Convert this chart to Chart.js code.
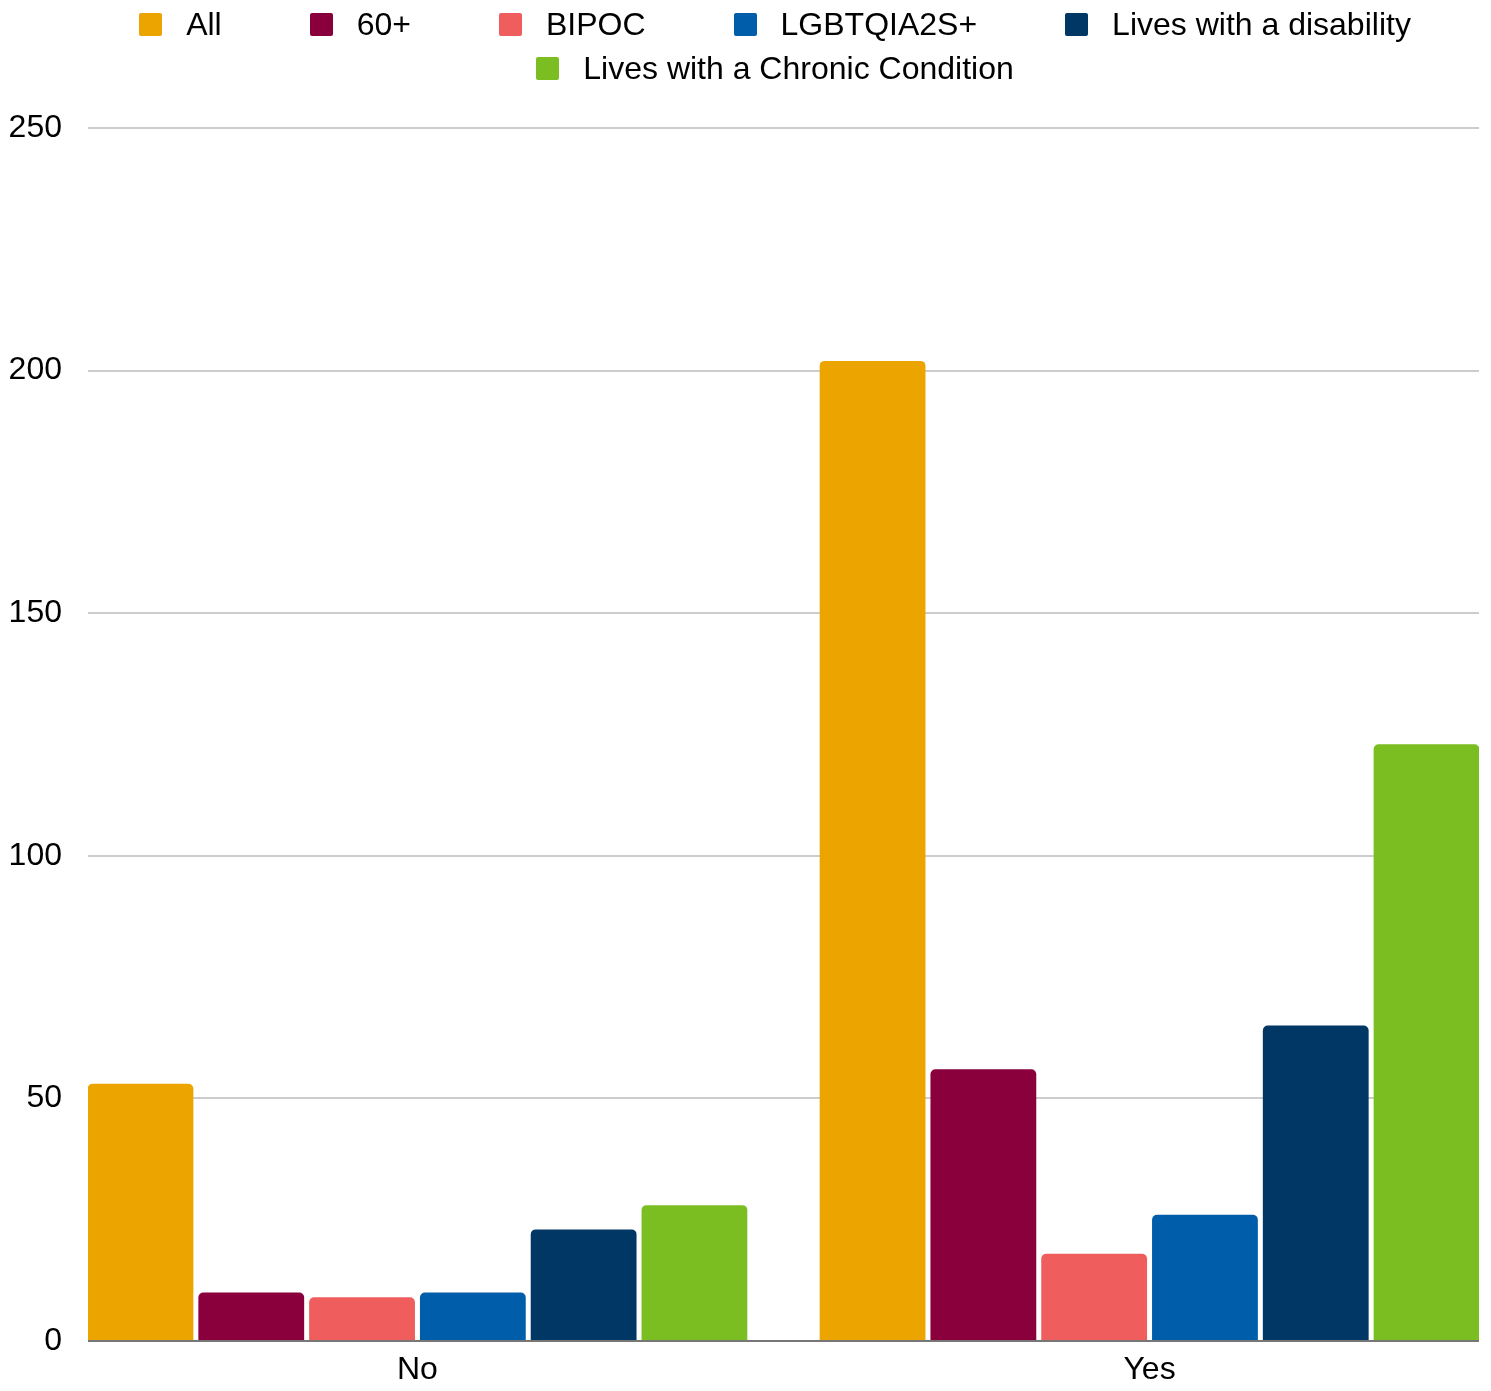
<!DOCTYPE html>
<html>
<head>
<meta charset="utf-8">
<script src="https://cdn.jsdelivr.net/npm/chart.js@4"></script>
<style>
  body { margin: 0; background: #fff; font-family: "Liberation Sans", Arial, sans-serif; }
  #wrap { position: relative; width: 1491px; height: 1391px; }
  #chart { display: block; }
  #legend {
    position: absolute; top: 2px; left: 59px; right: 0;
    display: flex; flex-wrap: wrap; justify-content: center;
    column-gap: 88px; font-size: 32px; line-height: 44px; color: #000;
  }
  .item { display: flex; align-items: center; white-space: nowrap; }
  .box { width: 23px; height: 23px; border-radius: 2px; margin-right: 24px; }
</style>
</head>
<body>
<div id="wrap">
  <canvas id="chart" width="1491" height="1391"></canvas>
  <div id="legend"></div>
</div>
<script>
// categories on the x axis
const categories = ['No', 'Yes'];

// one array per group, values for No / Yes
const allValues = [53, 202];
const over60Values = [10, 56];
const bipocValues = [9, 18];
const lgbtqValues = [10, 26];
const disabilityValues = [23, 65];
const chronicValues = [28, 123];

const seriesNames = ['All', '60+', 'BIPOC', 'LGBTQIA2S+', 'Lives with a disability', 'Lives with a Chronic Condition'];
const seriesValues = [allValues, over60Values, bipocValues, lgbtqValues, disabilityValues, chronicValues];
const seriesColors = ['#eca500', '#8a003c', '#ef5d5d', '#005daa', '#003764', '#7bbe22'];

const yTicks = [0, 50, 100, 150, 200, 250];

const font = "'Liberation Sans', Arial, sans-serif";

// html legend, built from the same arrays
let legendEl = document.getElementById('legend');
seriesNames.forEach((name, i) => {
    let item = document.createElement('div');
    item.className = 'item';
    let box = document.createElement('span');
    box.className = 'box';
    box.style.background = seriesColors[i];
    item.appendChild(box);
    item.appendChild(document.createTextNode(name));
    legendEl.appendChild(item);
});

let datasets = seriesNames.map((name, i) => ({
    label: name,
    data: seriesValues[i].map((v, j) => ({x: j, y: v})),
    backgroundColor: seriesColors[i],
    borderRadius: 5,
    barPercentage: 0.955,
    categoryPercentage: 0.908
}));

let ctx = document.getElementById('chart').getContext('2d');
let chart = new Chart(ctx, {
    type: 'bar',
    data: { datasets: datasets },
    options: {
        responsive: false,
        animation: false,
        layout: { padding: { left: 8, right: 12, top: 128, bottom: 0 } },
        plugins: {
            legend: { display: false },
            tooltip: { enabled: false }
        },
        scales: {
            x: {
                type: 'linear',
                offset: false,
                min: -0.45,
                max: 1.45,
                afterBuildTicks: (scale) => {
                    scale.ticks = categories.map((c, i) => ({ value: i }));
                },
                afterFit: (scale) => { scale.height = 50; },
                grid: { display: false, drawTicks: false },
                border: { display: false },
                ticks: {
                    padding: 10,
                    maxRotation: 0,
                    color: '#000',
                    font: { family: font, size: 32 },
                    callback: (v) => categories[v]
                }
            },
            y: {
                min: 0,
                max: 250,
                afterBuildTicks: (scale) => {
                    scale.ticks = yTicks.map(v => ({ value: v }));
                },
                afterFit: (scale) => { scale.width = 80; },
                grid: {
                    drawTicks: false,
                    color: (c) => c.tick && c.tick.value === 0 ? '#777777' : '#cccccc',
                    lineWidth: 2
                },
                border: { display: false },
                ticks: {
                    padding: 26,
                    color: '#000',
                    font: { family: font, size: 32 }
                }
            }
        }
    }
});
</script>
</body>
</html>
